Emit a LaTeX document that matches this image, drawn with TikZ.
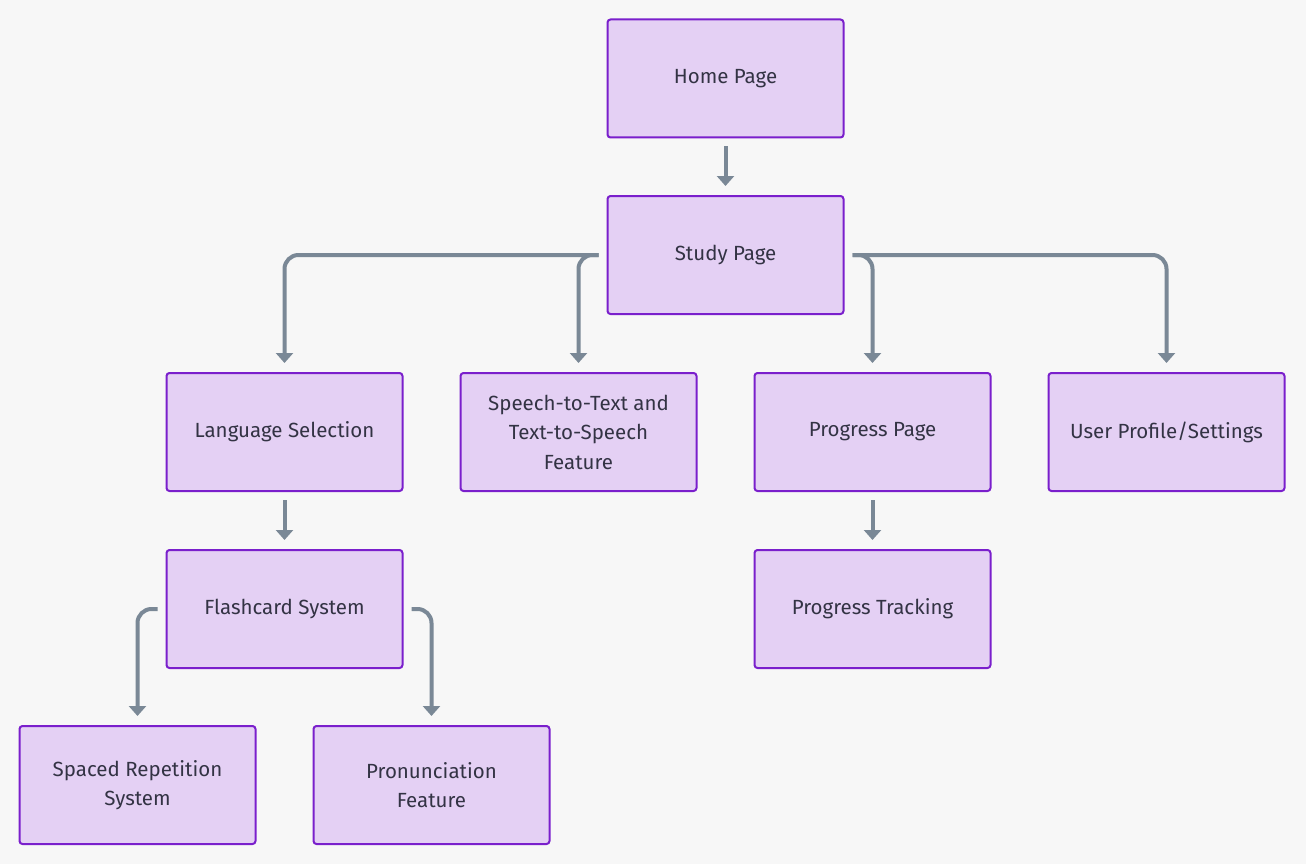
\documentclass[tikz,border=0pt]{standalone}
\usepackage{fontspec}
\setmainfont{Fira Sans}
\usetikzlibrary{arrows.meta}
\definecolor{pagebg}{HTML}{F7F7F7}
\definecolor{boxfill}{HTML}{E4D0F4}
\definecolor{boxline}{HTML}{7A1FCC}
\definecolor{textslate}{HTML}{333344}
\definecolor{linkgray}{HTML}{7A8896}

\begin{document}
\begin{tikzpicture}[x=1pt,y=-1pt,
    page/.style={draw=boxline,fill=boxfill,line width=2pt,rounded corners=3pt,
      minimum width=236pt,minimum height=118pt,align=center,text=textslate,
      font=\fontsize{20.5}{29.5}\selectfont},
    link/.style={draw=linkgray,line width=4pt,rounded corners=14pt,
      -{Triangle[length=10pt,width=17pt]},shorten >=9pt,shorten <=8pt}]
    % Background
    \fill[pagebg] (0,0) rectangle (1306,864);
    \useasboundingbox (0,0) rectangle (1306,864);
    % Pages
    \node[page] (home) at (725.5,78.5) {Home Page};
    \node[page] (study) at (725.5,255) {Study Page};
    \node[page] (lang) at (284.5,432) {Language Selection};
    \node[page] (speech) at (578.5,432) {Speech-to-Text and\\Text-to-Speech\\Feature};
    \node[page] (progress) at (872.5,432) {Progress Page};
    \node[page] (profile) at (1166.5,432) {User Profile/Settings};
    \node[page] (flash) at (284.5,609) {Flashcard System};
    \node[page] (tracking) at (872.5,609) {Progress Tracking};
    \node[page] (spaced) at (137.5,785) {Spaced Repetition\\System};
    \node[page] (pron) at (431.5,785) {Pronunciation\\Feature};
    % Links
    \draw[link] (home) -- (study);
    \draw[link] (study.west) -| (lang.north);
    \draw[link] (study.west) -| (speech.north);
    \draw[link] (study.east) -| (progress.north);
    \draw[link] (study.east) -| (profile.north);
    \draw[link] (lang) -- (flash);
    \draw[link] (progress) -- (tracking);
    \draw[link] (flash.west) -| (spaced.north);
    \draw[link] (flash.east) -| (pron.north);
\end{tikzpicture}
\end{document}
